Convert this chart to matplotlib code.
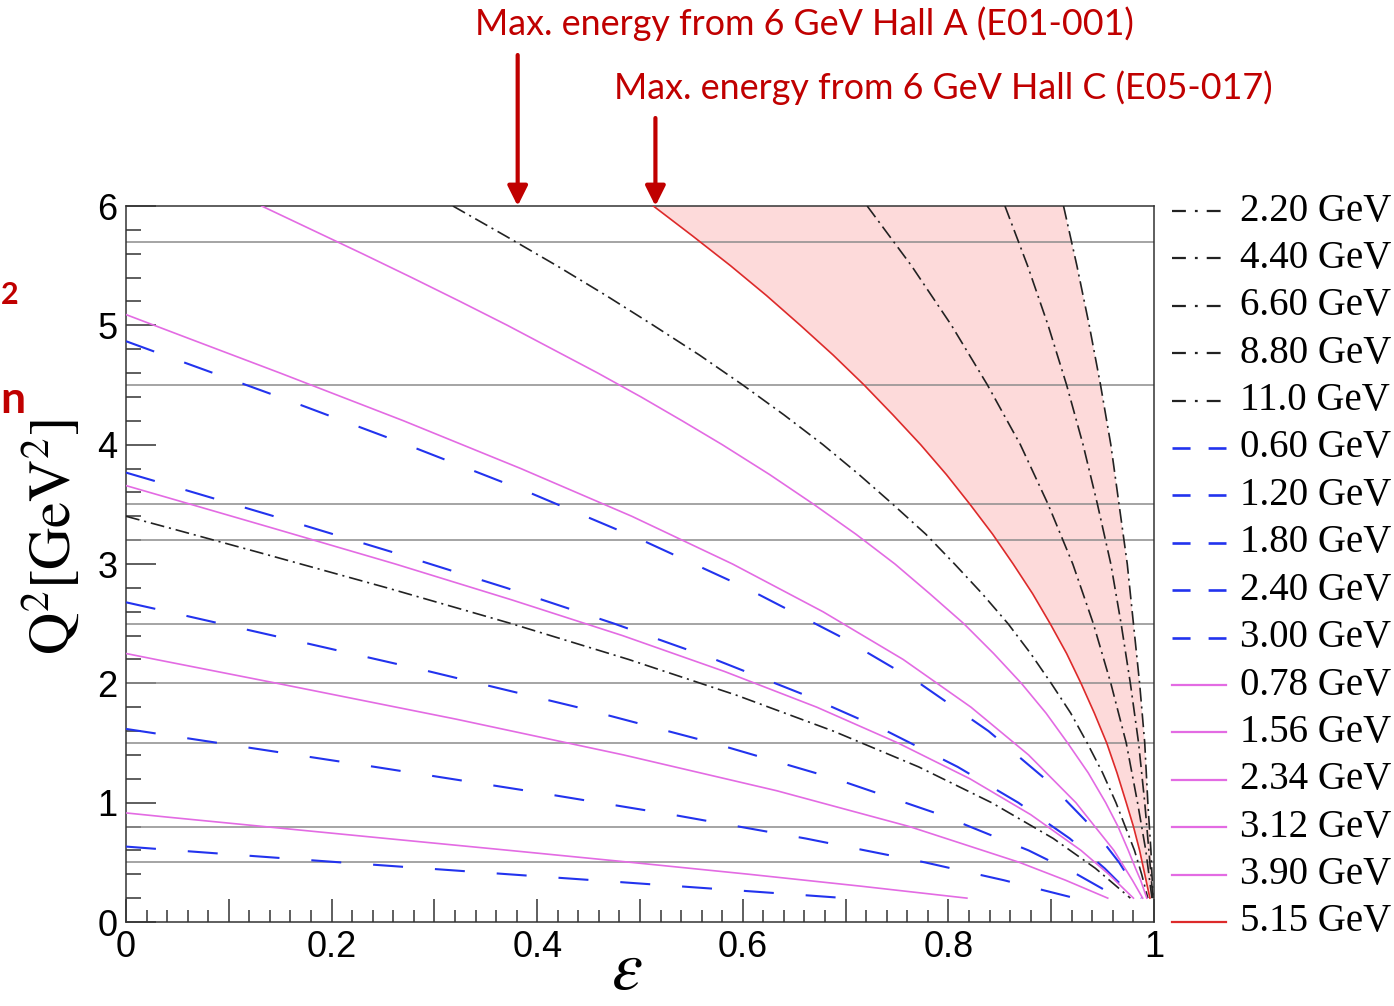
import matplotlib
matplotlib.use('Agg')
import matplotlib.pyplot as plt
from matplotlib.lines import Line2D
from matplotlib.ticker import MultipleLocator, FuncFormatter

W, H = 1394, 1006
RED_TXT = '#c00000'

# Q^2 vs epsilon curves for each beam energy
# blue dashed
eps_060 = [0, 0.049, 0.128, 0.208, 0.290, 0.372, 0.455, 0.537, 0.619, 0.700]
q2_060 = [0.632, 0.60, 0.55, 0.50, 0.45, 0.40, 0.35, 0.30, 0.25, 0.20]
eps_120 = [0, 0.029, 0.090, 0.242, 0.390, 0.531, 0.661, 0.777, 0.854, 0.923]
q2_120 = [1.618, 1.58, 1.50, 1.30, 1.10, 0.90, 0.70, 0.50, 0.35, 0.20]
eps_180 = [0, 0.041, 0.143, 0.295, 0.439, 0.571, 0.690, 0.792, 0.878, 0.925, 0.966]
q2_180 = [2.679, 2.60, 2.40, 2.10, 1.80, 1.50, 1.20, 0.90, 0.60, 0.40, 0.20]
eps_240 = [0, 0.046, 0.144, 0.259, 0.370, 0.475, 0.573, 0.661, 0.740, 0.809, 0.868, 0.918, 0.952, 0.981]
q2_240 = [3.766, 3.65, 3.40, 3.10, 2.80, 2.50, 2.20, 1.90, 1.60, 1.30, 1.00, 0.70, 0.45, 0.20]
eps_300 = [0, 0.053, 0.149, 0.273, 0.392, 0.502, 0.603, 0.693, 0.772, 0.839, 0.894, 0.939, 0.966, 0.988]
q2_300 = [4.867, 4.70, 4.40, 4.00, 3.60, 3.20, 2.80, 2.40, 2.00, 1.60, 1.20, 0.80, 0.50, 0.20]

# magenta solid
eps_078 = [0, 0.039, 0.134, 0.253, 0.373, 0.491, 0.606, 0.715, 0.818]
q2_078 = [0.914, 0.88, 0.80, 0.70, 0.60, 0.50, 0.40, 0.30, 0.20]
eps_156 = [0, 0.029, 0.147, 0.321, 0.484, 0.633, 0.762, 0.869, 0.914, 0.955]
q2_156 = [2.25, 2.20, 2.00, 1.70, 1.40, 1.10, 0.80, 0.50, 0.35, 0.20]
eps_234 = [0, 0.043, 0.143, 0.262, 0.375, 0.483, 0.582, 0.672, 0.751, 0.821, 0.880, 0.929, 0.956, 0.980]
q2_234 = [3.657, 3.55, 3.30, 3.00, 2.70, 2.40, 2.10, 1.80, 1.50, 1.20, 0.90, 0.60, 0.40, 0.20]
eps_312 = [0, 0.058, 0.150, 0.270, 0.384, 0.492, 0.590, 0.678, 0.756, 0.822, 0.878, 0.924, 0.961, 0.979, 0.989]
q2_312 = [5.09, 4.90, 4.60, 4.20, 3.80, 3.40, 3.00, 2.60, 2.20, 1.80, 1.40, 1.00, 0.60, 0.35, 0.20]
eps_390 = [0.132, 0.181, 0.230, 0.278, 0.325, 0.371, 0.415, 0.459, 0.501, 0.541, 0.580, 0.626, 0.669, 0.710,
           0.748, 0.782, 0.815, 0.844, 0.871, 0.895, 0.916, 0.936, 0.953, 0.965, 0.975, 0.982, 0.987, 0.993]
q2_390 = [6.00, 5.80, 5.60, 5.40, 5.20, 5.00, 4.80, 4.60, 4.40, 4.20, 4.00, 3.75, 3.50, 3.25,
          3.00, 2.75, 2.50, 2.25, 2.00, 1.75, 1.50, 1.25, 1.00, 0.80, 0.60, 0.45, 0.35, 0.20]

# black dash-dot
eps_220 = [0, 0.043, 0.128, 0.254, 0.375, 0.489, 0.594, 0.688, 0.771, 0.842, 0.902, 0.943, 0.977]
q2_220 = [3.40, 3.30, 3.10, 2.80, 2.50, 2.20, 1.90, 1.60, 1.30, 1.00, 0.70, 0.45, 0.20]
q2_fine = [6.0, 5.75, 5.5, 5.25, 5.0, 4.75, 4.5, 4.25, 4.0, 3.75, 3.5, 3.25, 3.0,
           2.75, 2.5, 2.25, 2.0, 1.75, 1.5, 1.25, 1.0, 0.8, 0.6, 0.4, 0.2]
eps_440 = [0.318, 0.369, 0.419, 0.467, 0.513, 0.558, 0.600, 0.640, 0.678, 0.713, 0.746, 0.778, 0.806,
           0.833, 0.858, 0.880, 0.900, 0.919, 0.935, 0.950, 0.963, 0.972, 0.981, 0.988, 0.994]
q2_hi = [6.0, 5.5, 5.0, 4.5, 4.0, 3.5, 3.0, 2.5, 2.0, 1.5, 1.0, 0.6, 0.2]
eps_660 = [0.721, 0.764, 0.803, 0.838, 0.870, 0.897, 0.921, 0.941, 0.958, 0.973, 0.984, 0.992, 0.998]
eps_880 = [0.855, 0.877, 0.897, 0.915, 0.931, 0.945, 0.958, 0.968, 0.977, 0.985, 0.991, 0.995, 0.999]
eps_1100 = [0.912, 0.925, 0.937, 0.948, 0.958, 0.966, 0.974, 0.980, 0.986, 0.991, 0.994, 0.997, 0.999]

# red solid
eps_515 = [0.513, 0.551, 0.588, 0.623, 0.656, 0.688, 0.718, 0.746, 0.773, 0.798, 0.821, 0.843, 0.863,
           0.882, 0.899, 0.915, 0.929, 0.942, 0.954, 0.964, 0.973, 0.980, 0.986, 0.991, 0.996]

q2_lines = [0.5, 0.8, 1.5, 2.0, 2.5, 3.2, 3.5, 4.5, 5.7]
eps_hallA = 0.381
eps_hallC = 0.515

styles = {
    'black': dict(color='#222222', lw=1.2, dashes=(10, 3.5, 1.5, 3.5), leg=(10, 6.5, 2, 6.5)),
    'blue': dict(color='#2233ee', lw=1.5, dashes=(21.6, 23), leg=(13, 13)),
    'magenta': dict(color='#e36be3', lw=1.2, dashes=None, leg=None),
    'red': dict(color='#dd2a2a', lw=1.2, dashes=None, leg=None),
}

curves = [
    ('2.20 GeV', 'black', eps_220, q2_220),
    ('4.40 GeV', 'black', eps_440, q2_fine),
    ('6.60 GeV', 'black', eps_660, q2_hi),
    ('8.80 GeV', 'black', eps_880, q2_hi),
    ('11.0 GeV', 'black', eps_1100, q2_hi),
    ('0.60 GeV', 'blue', eps_060, q2_060),
    ('1.20 GeV', 'blue', eps_120, q2_120),
    ('1.80 GeV', 'blue', eps_180, q2_180),
    ('2.40 GeV', 'blue', eps_240, q2_240),
    ('3.00 GeV', 'blue', eps_300, q2_300),
    ('0.78 GeV', 'magenta', eps_078, q2_078),
    ('1.56 GeV', 'magenta', eps_156, q2_156),
    ('2.34 GeV', 'magenta', eps_234, q2_234),
    ('3.12 GeV', 'magenta', eps_312, q2_312),
    ('3.90 GeV', 'magenta', eps_390, q2_390),
    ('5.15 GeV', 'red', eps_515, q2_fine),
]

plt.rcParams['lines.scale_dashes'] = False
plt.rcParams['mathtext.fontset'] = 'stix'

fig = plt.figure(figsize=(W / 100, H / 100), dpi=100)
ax = fig.add_axes([126 / W, 1 - 922 / H, (1154 - 126) / W, (922 - 206) / H])

# region between the 5.15 GeV and 11 GeV curves
ax.fill(eps_515 + eps_1100[::-1], q2_fine + q2_hi[::-1], color='#fddada', lw=0, zorder=1)

for q in q2_lines:
    ax.axhline(q, color='#8c8c8c', lw=1.1, zorder=2)

for label, kind, e, q in curves:
    st = styles[kind]
    line, = ax.plot(e, q, color=st['color'], lw=st['lw'], zorder=3)
    if st['dashes'] is not None:
        line.set_dashes(st['dashes'])

ax.set_xlim(0, 1)
ax.set_ylim(0, 6)
ax.xaxis.set_major_locator(MultipleLocator(0.1))
ax.xaxis.set_minor_locator(MultipleLocator(0.02))
ax.yaxis.set_major_locator(MultipleLocator(1))
ax.yaxis.set_minor_locator(MultipleLocator(0.2))


def xfmt(v, pos):
    k = int(round(v * 10))
    if k % 2:
        return ''
    return '%g' % (k / 10)


ax.xaxis.set_major_formatter(FuncFormatter(xfmt))
ax.yaxis.set_major_formatter(FuncFormatter(lambda v, p: '%d' % round(v)))
ax.tick_params(axis='both', which='both', direction='in', top=False, right=False,
               width=1.1, color='#333333', labelsize=26, labelfontfamily='Liberation Sans')
ax.tick_params(axis='x', which='major', length=16.5, pad=6)
ax.tick_params(axis='x', which='minor', length=8.3)
ax.tick_params(axis='y', which='major', length=21.6, pad=6)
ax.tick_params(axis='y', which='minor', length=10.8)
for sp in ax.spines.values():
    sp.set_linewidth(1.1)
    sp.set_color('#333333')

fig.text(52 / W, 1 - 537 / H, r'$\mathrm{Q}^{2}[\mathrm{GeV}^{2}]$', rotation=90,
         ha='center', va='center', fontsize=42)
fig.text(627 / W, 1 - 1003 / H, r'$\varepsilon$', ha='center', va='bottom', fontsize=50)

# legend drawn by hand to the right of the frame
row0, pitch = 211, 47.4
for i, (label, kind, e, q) in enumerate(curves):
    st = styles[kind]
    y = 1 - (row0 + i * pitch) / H
    ln = Line2D([1172 / W, 1226 / W], [y, y], transform=fig.transFigure,
                color=st['color'], lw=st['lw'] + 0.4)
    if st['leg'] is not None:
        ln.set_dashes(st['leg'])
    fig.add_artist(ln)
    fig.text(1240 / W, y, label, ha='left', va='center', fontsize=28,
             family='Liberation Serif')

# annotations with arrows
for eps, ytop, txt, tx, ty in [
    (eps_hallA, 55, 'Max. energy from 6 GeV Hall A (E01-001)', 804, 24),
    (eps_hallC, 118, 'Max. energy from 6 GeV Hall C (E05-017)', 943, 88),
]:
    ax.annotate('', xy=(eps, 6), xytext=(eps, (922 - ytop) / ((922 - 206) / 6)),
                annotation_clip=False,
                arrowprops=dict(arrowstyle='-|>,head_length=0.6,head_width=0.3',
                                mutation_scale=20, lw=3, color=RED_TXT,
                                shrinkA=0, shrinkB=0))
    fig.text(tx / W, 1 - ty / H, txt, ha='center', va='center', fontsize=25.8,
             family='Lato', color=RED_TXT)

# fragments of slide text at the left edge
fig.text(1 / W, 1 - 295 / H, '2', ha='left', va='center', fontsize=22,
         family='Lato', weight='bold', color=RED_TXT)
fig.text(0, 1 - 400 / H, 'n', ha='left', va='center', fontsize=32,
         family='Lato', weight='bold', color=RED_TXT)

fig.savefig('out.png', dpi=100)
